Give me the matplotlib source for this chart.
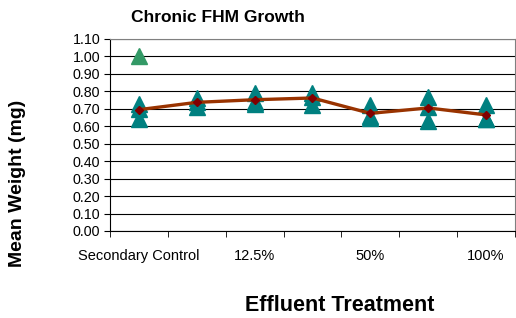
import numpy as np
import matplotlib
matplotlib.use("Agg")
from matplotlib import pyplot as plt

# categories (every other label is hidden, as in the Excel chart)
categories = ["Secondary Control", "6.25%", "12.5%", "25%", "50%", "75%", "100%"]
shown_labels = ["Secondary Control", "", "12.5%", "", "50%", "", "100%"]

# replicate weights (mg) per treatment
rep_a = [0.73, 0.76, 0.79, 0.79, 0.72, 0.77, 0.72]
rep_b = [0.70, 0.74, 0.74, 0.77, 0.66, 0.71, 0.64]
rep_c = [0.64, 0.71, 0.73, 0.72, 0.65, 0.63, 0.64]

# outlier replicate in the control
outlier_x = [0]
outlier_y = [1.00]

# treatment means
means = [0.695, 0.737, 0.752, 0.762, 0.674, 0.705, 0.665]

plt.rcParams['font.family'] = ['Liberation Sans', 'DejaVu Sans']

fig = plt.figure(figsize=(5.16, 3.18), dpi=100)
ax = fig.add_axes([0.2132, 0.2736, 0.7848, 0.6038])

x = np.arange(len(categories))
for reps in (rep_a, rep_b, rep_c):
    ax.plot(x, reps, linestyle='none', marker='^', ms=11, color='#008080',
            markeredgecolor='#008080', zorder=3)
ax.plot(outlier_x, outlier_y, linestyle='none', marker='^', ms=11,
        color='#339966', markeredgecolor='#339966', zorder=3)
ax.plot(x, means, color='#993300', lw=2.4, marker='D', ms=4.5,
        markerfacecolor='#800000', markeredgecolor='#800000', zorder=4)

ax.set_xlim(-0.5, len(categories) - 0.5)
ax.set_ylim(0, 1.1)
ax.set_yticks(np.arange(0, 1.101, 0.1))
ax.set_yticklabels(["%.2f" % v for v in np.arange(0, 1.101, 0.1)], fontsize=10.3)
ax.yaxis.grid(True, color='black', lw=0.8)
ax.set_axisbelow(True)

ax.set_xticks(x)
ax.set_xticklabels(shown_labels, fontsize=10.5)
ax.tick_params(axis='x', which='major', length=0, pad=13)
ax.set_xticks(np.arange(-0.5, len(categories)), minor=True)
ax.tick_params(axis='x', which='minor', length=4, direction='out', color='black')
ax.tick_params(axis='y', length=4, direction='out', pad=3)

for s in ('top', 'right'):
    ax.spines[s].set_color('#808080')
for s in ('left', 'bottom'):
    ax.spines[s].set_color('black')

fig.text(0.422, 0.945, "Chronic FHM Growth", fontsize=12.5, fontweight='bold',
         ha='center', va='center')
fig.text(0.659, 0.038, "Effluent Treatment", fontsize=15.5, fontweight='bold',
         ha='center', va='center')
fig.text(0.033, 0.4245, "Mean Weight (mg)", fontsize=14, fontweight='bold',
         ha='center', va='center', rotation=90)

fig.savefig("out.png", dpi=100)
